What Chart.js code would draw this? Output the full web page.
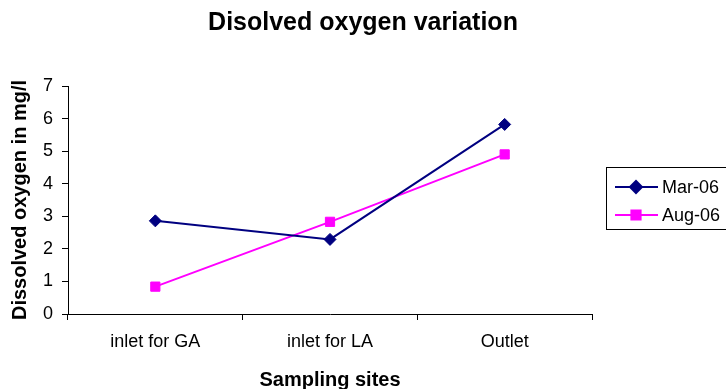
<!DOCTYPE html>
<html>
<head>
<meta charset="utf-8">
<title>Disolved oxygen variation</title>
<script src="https://cdn.jsdelivr.net/npm/chart.js@4/dist/chart.umd.min.js"></script>
<style>
  body { margin: 0; background: #fff; }
  canvas { display: block; }
</style>
</head>
<body>
<canvas id="doChart" width="726" height="389"></canvas>
<script>
// ---------- DATA ----------
const sites = ["inlet for GA", "inlet for LA", "Outlet"];
const march06 = [2.86, 2.29, 5.82];
const august06 = [0.84, 2.83, 4.90];
const yTicks = [0, 1, 2, 3, 4, 5, 6, 7];

const FONT = "'Liberation Sans', Arial, sans-serif";

// ---------- TITLE across the whole canvas (not just the plot + axes) ----------
const wideTitle = {
  id: "wideTitle",
  afterLayout(chart) {
    const t = chart.titleBlock;
    if (!t) return;
    t.left = 0;
    t.right = chart.width;
    t.width = chart.width;
  }
};

// ---------- LEGEND (boxed, line + marker like the old office charts) ----------
const boxLegend = {
  id: "boxLegend",
  afterDraw(chart) {
    const ctx = chart.ctx;
    const area = chart.chartArea;
    const x0 = area.right + 14;
    const y0 = 167;
    const rowH = 28;

    ctx.save();
    ctx.strokeStyle = "#000";
    ctx.lineWidth = 1;
    ctx.strokeRect(x0 + 0.5, y0 + 0.5, 200, 62);

    chart.data.datasets.forEach((ds, i) => {
      const y = y0 + 20 + i * rowH;
      ctx.strokeStyle = ds.borderColor;
      ctx.lineWidth = ds.borderWidth;
      ctx.beginPath();
      ctx.moveTo(x0 + 9, y);
      ctx.lineTo(x0 + 52, y);
      ctx.stroke();

      ctx.fillStyle = ds.pointBackgroundColor;
      ctx.strokeStyle = ds.pointBorderColor;
      Chart.helpers.drawPoint(ctx, {
        pointStyle: ds.pointStyle,
        radius: ds.pointRadius,
        borderWidth: 1,
        rotation: 0
      }, x0 + 30, y);

      ctx.fillStyle = "#000";
      ctx.font = "18px " + FONT;
      ctx.textBaseline = "middle";
      ctx.textAlign = "left";
      ctx.fillText(ds.label, x0 + 56, y + 1);
    });
    ctx.restore();
  }
};

// ---------- CHART ----------
new Chart(document.getElementById("doChart"), {
  type: "line",
  data: {
    labels: sites,
    datasets: [
      {
        label: "Mar-06",
        data: march06,
        borderColor: "#000080",
        backgroundColor: "#000080",
        pointBackgroundColor: "#000080",
        pointBorderColor: "#000080",
        pointStyle: "rectRot",
        pointRadius: 6,
        pointBorderWidth: 1,
        borderWidth: 2,
        tension: 0
      },
      {
        label: "Aug-06",
        data: august06,
        borderColor: "#FF00FF",
        backgroundColor: "#FF00FF",
        pointBackgroundColor: "#FF00FF",
        pointBorderColor: "#FF00FF",
        pointStyle: "rect",
        pointRadius: 6.5,
        pointBorderWidth: 1,
        borderWidth: 2,
        tension: 0
      }
    ]
  },
  options: {
    responsive: false,
    animation: false,
    layout: { padding: { left: 0, right: 134, top: 0, bottom: 0 } },
    plugins: {
      legend: { display: false },
      tooltip: { enabled: false },
      title: {
        display: true,
        text: "Disolved oxygen variation",
        color: "#000",
        font: { family: FONT, size: 25, weight: "bold" },
        padding: { top: 8, bottom: 48 }
      }
    },
    scales: {
      x: {
        offset: true,
        afterFit(scale) { scale.height = 75; },
        grid: {
          offset: true,
          drawOnChartArea: false,
          drawTicks: true,
          tickLength: 6,
          color: "#000"
        },
        border: { display: true, color: "#000", width: 1 },
        ticks: {
          color: "#000",
          padding: 11,
          maxRotation: 0,
          font: { family: FONT, size: 18 }
        },
        title: {
          display: true,
          text: "Sampling sites",
          color: "#000",
          font: { family: FONT, size: 20, weight: "bold", lineHeight: 1 },
          padding: { top: 0, bottom: -1 }
        }
      },
      y: {
        min: yTicks[0],
        max: yTicks[yTicks.length - 1],
        afterFit(scale) { scale.width = 68; },
        afterBuildTicks(scale) {
          scale.ticks = yTicks.map(v => ({ value: v }));
        },
        grid: {
          drawOnChartArea: false,
          drawTicks: true,
          tickLength: 6,
          color: "#000"
        },
        border: { display: true, color: "#000", width: 1 },
        ticks: {
          color: "#000",
          padding: 9,
          font: { family: FONT, size: 18 }
        },
        title: {
          display: true,
          text: "Dissolved oxygen in mg/l",
          color: "#000",
          font: { family: FONT, size: 20, weight: "bold" },
          padding: { top: 8, bottom: 0 }
        }
      }
    }
  },
  plugins: [wideTitle, boxLegend]
});
</script>
</body>
</html>
